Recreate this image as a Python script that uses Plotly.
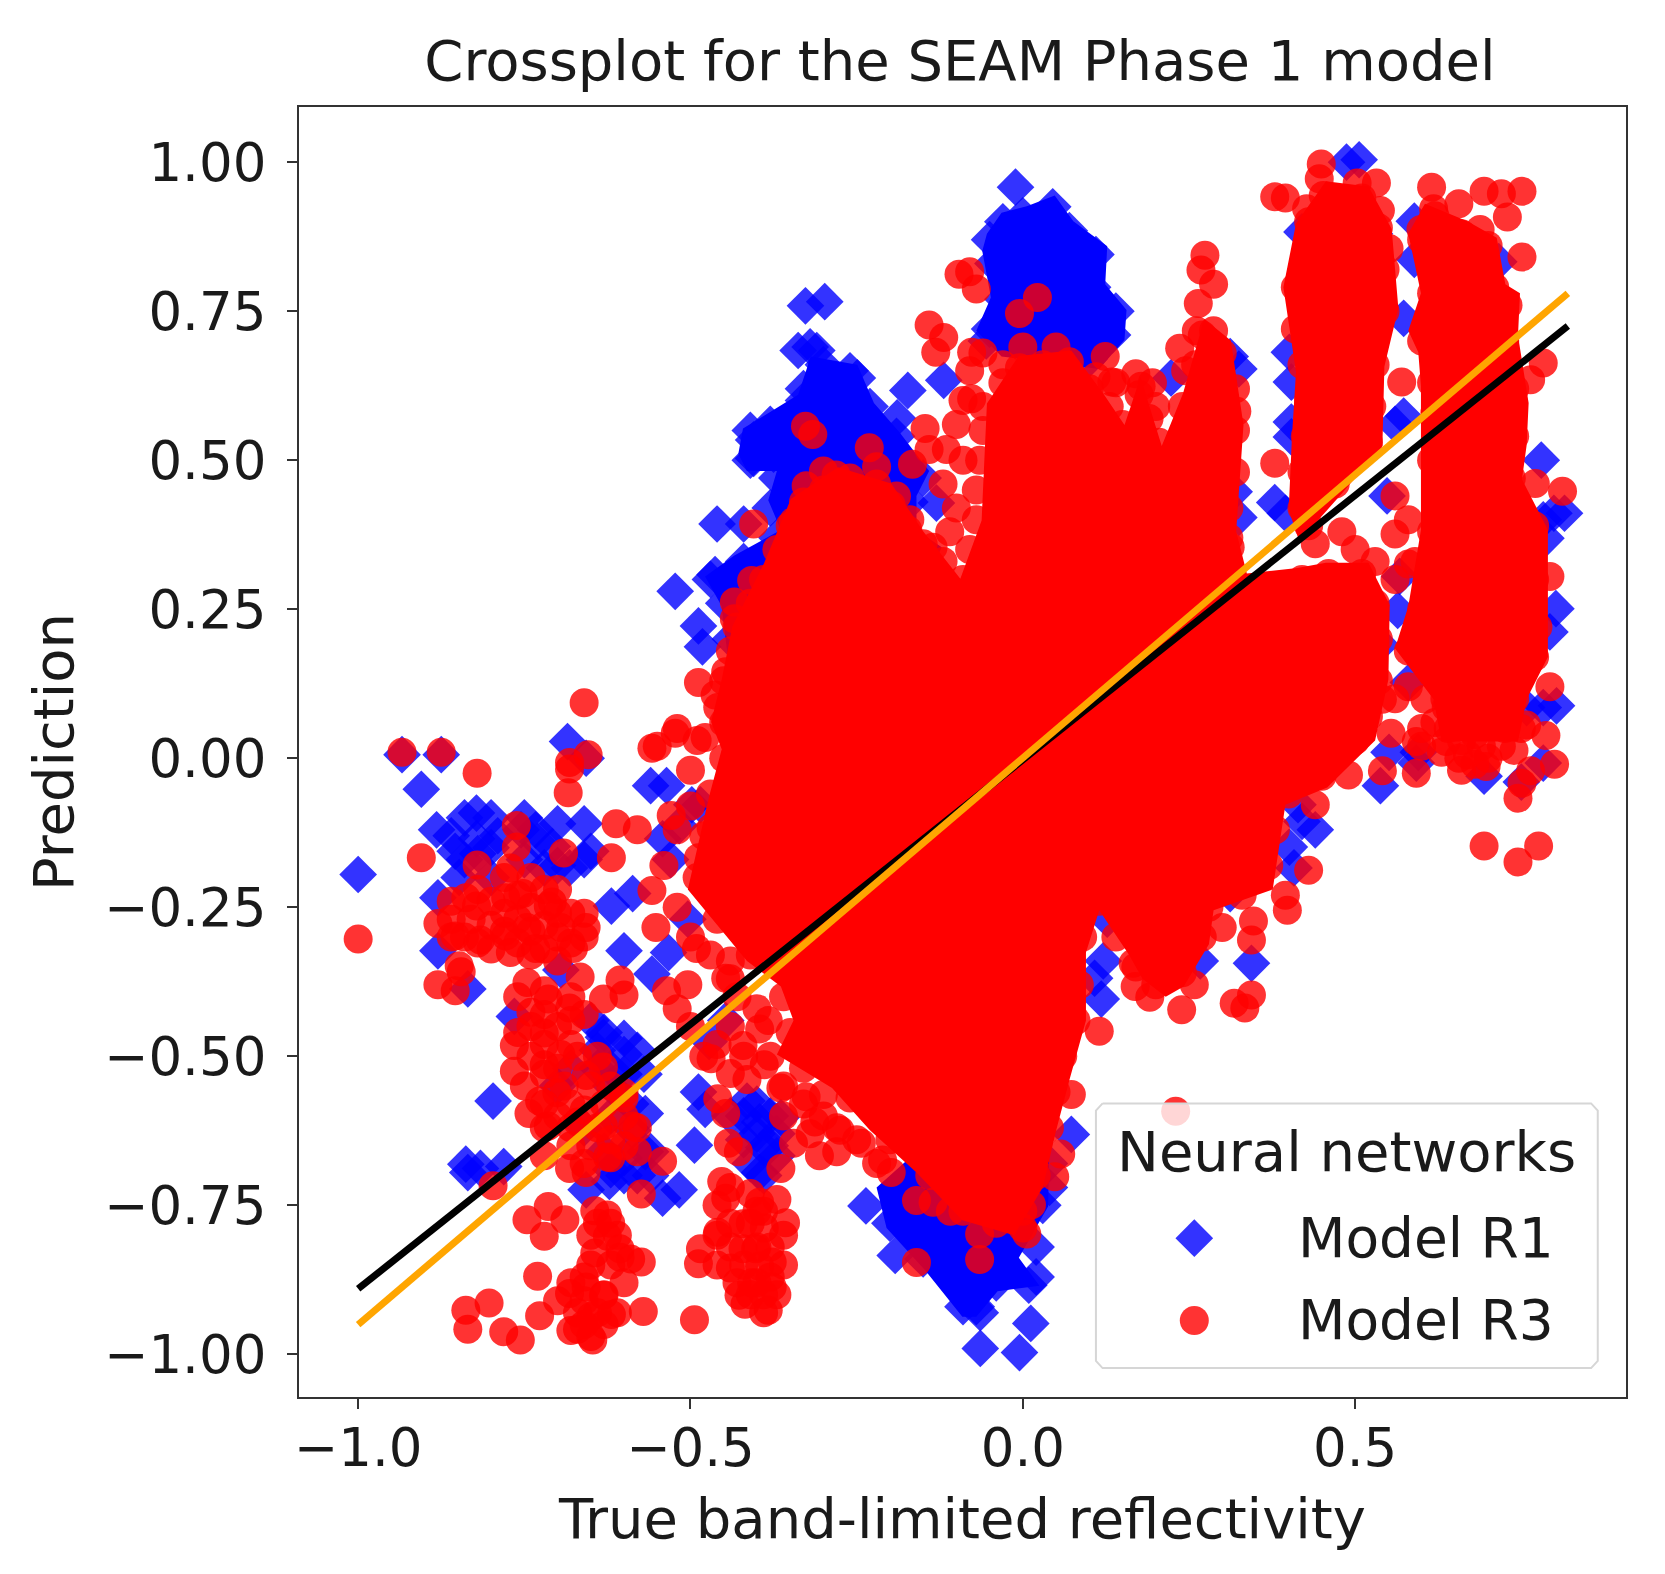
import plotly.graph_objects as go

# Model R1 (blue diamonds): scattered points
r1_x = [-1.0,-0.905,-0.882,-0.822,-0.822,-0.854,-0.848,-0.88,-0.733,-0.708,-0.66,-0.682,-0.65,-0.72,-0.755,-0.79,-0.56,-0.536,-0.657,-0.542,-0.517,-0.498,-0.485,-0.53,-0.619,-0.587,-0.6,-0.533,-0.558,-0.504,-0.88,-0.695,-0.765,-0.835,-0.797,-0.838,-0.816,-0.781,-0.835,-0.631,-0.6,-0.65,-0.568,-0.587,-0.622,-0.657,-0.542,-0.517,-0.568,-0.488,-0.478,-0.494,-0.396,-0.39,-0.396,-0.415,-0.364,-0.37,-0.447,-0.472,-0.62,-0.64,-0.62,-0.7,-0.66,-0.68,
        -0.685,-0.934,-0.875,-0.327,-0.298,-0.338,-0.31,-0.249,-0.173,-0.119,-0.189,-0.405,-0.405,-0.375,-0.13,-0.46,-0.42,-0.463,-0.488,-0.482,-0.523,
        -0.011,0.573,0.78,0.573,0.56,0.379,0.395,0.325,0.312,0.223,0.318,0.325,0.404,0.401,0.404,0.404,0.42,0.529,0.506,0.487,0.589,0.589,0.716,0.799,0.783,0.815,0.787,0.802,0.793,0.783,0.803,0.758,0.564,0.538,0.58,0.548,0.567,0.551,0.592,0.783,0.538,0.595,0.694,0.75,
        0.42,0.44,0.401,0.408,0.414,0.127,0.178,0.121,0.108,0.267,0.312,-0.064,0.012,-0.064,-0.005,0.009,0.073,0.118,0.344,-0.236,-0.192,0.02,0.04,-0.06]
r1_y = [-0.195,-0.052,-0.12,-0.092,-0.135,-0.156,-0.2,-0.234,-0.12,-0.148,-0.11,-0.184,-0.156,-0.184,-0.12,-0.13,-0.046,-0.046,0.0,-0.135,-0.113,-0.078,-0.078,-0.17,-0.248,-0.227,-0.323,-0.326,-0.362,-0.27,-0.323,-0.355,-0.433,-0.387,-0.575,-0.681,-0.688,-0.685,-0.695,-0.468,-0.497,-0.44,-0.596,-0.624,-0.71,-0.724,-0.738,-0.724,-0.66,-0.56,-0.589,-0.649,-0.61,-0.653,-0.695,-0.575,-0.603,-0.667,-0.44,-0.475,-0.55,-0.52,-0.6,-0.55,-0.62,-0.52,
        0.028,0.006,0.006,0.759,0.766,0.684,0.684,0.638,0.617,0.634,0.571,0.534,0.503,0.51,0.428,0.393,0.393,0.308,0.222,0.187,0.28,
        0.958,0.738,0.5,0.574,0.56,0.429,0.411,0.653,0.674,0.638,0.447,0.404,0.631,0.681,0.564,0.539,0.883,0.88,1.004,1.0,0.901,0.837,0.833,0.411,0.4,0.411,0.369,0.251,0.212,0.085,0.088,0.085,0.248,0.191,0.127,0.44,0.305,0.01,-0.008,-0.008,-0.046,0.01,-0.03,-0.04,
        -0.106,-0.12,-0.149,-0.184,-0.078,-0.27,-0.248,-0.34,-0.369,-0.34,-0.227,-0.93,-0.948,-0.99,-0.997,-0.884,-0.631,-0.404,-0.344,-0.751,-0.834,-0.82,-0.72,-0.88]

# Further R1 points along the dense blue areas and in the lower-left clusters
r1_more = [(-0.05,0.87),(-0.03,0.9),(0.0,0.91),(0.045,0.925),(0.07,0.885),(0.11,0.845),(0.105,0.79),(0.14,0.75),(0.135,0.71),(0.1,0.67),(-0.05,0.72),(-0.03,0.77),(-0.045,0.83),(0.02,0.89),(-0.055,0.70),
           (-0.41,0.55),(-0.41,0.5),(-0.37,0.47),(-0.38,0.56),(-0.33,0.6),(-0.3,0.66),(-0.32,0.69),(-0.26,0.65),(-0.23,0.59),(-0.19,0.54),(-0.15,0.47),(-0.17,0.43),(-0.38,0.42),(-0.37,0.37),(-0.42,0.33),(-0.47,0.3),(-0.45,0.26),(-0.44,0.2),(-0.33,0.62),
           (-0.2,-0.78),(-0.15,-0.84),(-0.09,-0.92),(-0.07,-0.92),(-0.04,-0.88),(0.02,-0.87),(0.03,-0.75),(0.04,-0.68),
           (-0.84,-0.1),(-0.82,-0.16),(-0.86,-0.13),(-0.8,-0.1),(-0.8,-0.15),(-0.84,-0.17),(-0.8,-0.2),(-0.75,-0.1),(-0.73,-0.14),(-0.7,-0.11),(-0.7,-0.18),(-0.75,-0.17),(-0.66,-0.17),
           (-0.63,-0.46),(-0.6,-0.47),(-0.6,-0.53),(-0.57,-0.53),(-0.64,-0.49),(-0.58,-0.49),(-0.62,-0.52),(-0.59,-0.58),(-0.62,-0.69),(-0.6,-0.7),(-0.58,-0.7),(-0.56,-0.7),(-0.6,-0.67),(-0.56,-0.66),(-0.63,-0.66),
           (-0.42,-0.6),(-0.4,-0.58),(-0.38,-0.6),(-0.4,-0.63),(-0.42,-0.64),(-0.38,-0.65),(-0.41,-0.68),(-0.39,-0.7),(-0.37,-0.63),(-0.44,-0.6)]

# Model R3 (red circles): scattered points
r3_x = [-0.66,-0.934,-0.875,-0.523,-0.558,-0.654,-0.682,-0.405,-0.327,-0.316,-0.231,-0.22,-0.30,-0.326,-0.281,-0.147,-0.141,-0.166,-0.115,-0.141,-0.119,-0.131,-0.096,
        -0.408,-0.37,-0.357,-0.434,-0.434,-0.488,-0.447,-0.463,-0.459,-0.478,-0.427,-0.135,-0.135,-0.173,-0.198,-0.345,
        0.379,0.395,0.449,0.446,0.503,0.532,0.538,0.427,0.452,0.551,0.615,0.618,0.656,0.694,0.72,0.751,0.729,0.751,0.688,0.656,0.599,0.63,
        0.274,0.268,0.287,0.264,0.236,0.287,0.261,0.379,-0.08,-0.07,0.022,-0.005,0.124,0.134,0.178,-0.077,-0.077,0.783,0.764,0.771,0.812,0.793,0.793,0.787,0.58,0.56,0.57,0.592,0.554,0.541,0.605,0.637,0.312,0.322,
        0.637,0.669,0.70,0.739,0.758,0.745,0.751,0.764,0.80,0.541,0.592,0.49,0.44,0.694,0.776,0.745,0.697,0.656,
        0.43,0.395,0.398,0.347,0.344,0.344,0.318,0.334,0.30,0.239,0.191,0.169,0.258,0.166,0.115,0.073,0.057,0.048,0.013,0.006,-0.065,-0.065,0.23,0.0,-0.032,
        -1.0,-0.905,-0.821,-0.684,-0.682,-0.762,-0.762,-0.821,-0.771,-0.691,-0.619,-0.612,-0.58,-0.529,-0.558,-0.488,-0.469,
        -0.88,-0.838,-0.822,-0.854,-0.816,-0.778,-0.746,-0.752,-0.714,-0.695,-0.657,-0.676,-0.733,-0.778,-0.708,-0.771,-0.848,-0.88,-0.854,-0.845,
        -0.666,-0.606,-0.631,-0.6,-0.552,-0.536,-0.504,-0.491,-0.44,-0.447,
        -0.746,-0.714,-0.682,-0.74,-0.72,-0.765,-0.765,-0.695,-0.72,-0.631,-0.657,-0.701,-0.727,-0.743,-0.714,-0.6,-0.587,-0.631,-0.67,-0.625,-0.542,-0.657,-0.682,-0.72,-0.797,-0.574,
        -0.746,-0.714,-0.689,-0.72,-0.644,-0.625,-0.625,-0.606,-0.644,-0.574,-0.606,-0.73,-0.682,-0.657,-0.631,-0.619,-0.65,-0.67,-0.647,-0.727,-0.838,-0.803,-0.835,-0.781,-0.756,-0.571,-0.494,
        -0.453,-0.447,-0.396,-0.357,-0.459,-0.421,-0.485,-0.488,-0.44,-0.402,-0.377,-0.408,-0.377,-0.427,-0.418,-0.383,-0.396,-0.421,-0.389,
        -0.428,-0.443,-0.459,-0.447,-0.364,-0.469,-0.44,-0.415,-0.421,-0.389,-0.383,-0.396,-0.364,-0.326,-0.3,-0.345,-0.313,-0.306,-0.275,-0.243,-0.211,-0.198,-0.16,-0.135,-0.16,-0.109]
r3_y = [0.093,0.01,0.01,0.042,0.017,0.006,-0.018,0.393,0.557,0.543,0.521,0.489,0.482,0.457,0.475,0.553,0.518,0.493,0.518,0.727,0.706,0.681,0.812,
        0.298,0.305,0.33,0.262,0.234,0.127,0.145,0.106,0.085,0.035,0.134,0.262,0.354,0.383,0.425,0.397,
        0.942,0.94,0.997,0.972,0.965,0.965,0.919,0.922,0.944,0.855,0.958,0.922,0.93,0.951,0.947,0.951,0.908,0.841,0.887,0.88,0.887,0.88,
        0.844,0.819,0.795,0.763,0.688,0.717,0.717,0.495,0.816,0.787,0.773,0.746,0.674,0.631,0.624,0.603,0.681,0.663,0.635,0.461,0.448,0.305,0.12,0.038,0.326,0.376,0.631,0.028,0.042,0.099,0.099,0.085,0.354,0.582,
        0.028,0.006,0.0,0.013,0.056,-0.067,-0.042,-0.021,-0.01,-0.021,-0.025,-0.028,-0.078,-0.147,-0.147,-0.174,-0.014,0.0,
        -0.188,-0.23,-0.255,-0.273,-0.305,-0.397,-0.411,-0.419,-0.284,-0.422,-0.401,-0.383,-0.38,-0.344,-0.458,-0.564,-0.664,-0.702,-0.749,-0.798,-0.841,-0.798,-0.592,-0.788,-0.766,
        -0.303,-0.167,-0.025,-0.058,-0.007,-0.113,-0.149,-0.179,-0.184,-0.159,-0.167,-0.11,-0.12,-0.096,-0.222,-0.167,-0.117,
        -0.277,-0.234,-0.248,-0.298,-0.305,-0.298,-0.284,-0.227,-0.248,-0.284,-0.284,-0.319,-0.319,-0.234,-0.241,-0.326,-0.348,-0.38,-0.39,-0.358,
        -0.367,-0.372,-0.404,-0.397,-0.284,-0.39,-0.38,-0.319,-0.34,-0.369,
        -0.376,-0.404,-0.419,-0.426,-0.461,-0.482,-0.525,-0.497,-0.514,-0.518,-0.532,-0.561,-0.575,-0.596,-0.617,-0.561,-0.617,-0.617,-0.61,-0.669,-0.676,-0.695,-0.688,-0.667,-0.717,-0.731,
        -0.774,-0.752,-0.774,-0.802,-0.759,-0.766,-0.802,-0.823,-0.83,-0.845,-0.837,-0.869,-0.898,-0.887,-0.901,-0.933,-0.937,-0.958,-0.976,-0.935,-0.926,-0.914,-0.958,-0.962,-0.976,-0.928,-0.942,
        -0.71,-0.738,-0.745,-0.779,-0.795,-0.781,-0.823,-0.848,-0.855,-0.823,-0.845,-0.88,-0.887,-0.901,-0.916,-0.926,-0.852,-0.823,-0.788,
        -0.66,-0.646,-0.571,-0.596,-0.688,-0.504,-0.529,-0.539,-0.482,-0.514,-0.44,-0.454,-0.553,-0.568,-0.564,-0.646,-0.61,-0.667,-0.624,-0.646,-0.674,-0.695,-0.742,-0.745,-0.846,-0.76]

# Further R3 points along the rims of the dense red areas and in the lower-left clusters
r3_more = [(-0.45,0.13),(-0.44,0.18),(-0.43,0.22),(-0.41,0.26),(-0.39,0.30),(-0.37,0.35),(-0.35,0.39),(-0.33,0.43),(-0.30,0.45),(-0.26,0.47),(-0.22,0.46),(-0.19,0.44),(-0.17,0.40),(-0.15,0.36),(-0.12,0.33),(-0.09,0.30),(-0.08,0.35),(-0.07,0.40),(-0.07,0.45),(-0.065,0.5),(-0.06,0.55),(-0.06,0.59),(-0.03,0.63),(-0.005,0.655),(0.03,0.66),(0.07,0.665),(0.10,0.62),(0.13,0.59),(0.15,0.56),(0.175,0.61),(0.19,0.57),(0.205,0.53),(0.24,0.59),(0.26,0.66),(0.27,0.71),(0.30,0.68),(0.32,0.62),(0.32,0.55),(0.32,0.48),(0.31,0.42),(0.31,0.37),
           (0.42,0.30),(0.46,0.31),(0.51,0.31),(0.53,0.26),(0.535,0.2),(0.535,0.13),(0.52,0.07),(0.50,0.03),(0.45,-0.03),(0.40,-0.06),(0.38,-0.12),(0.37,-0.18),(0.33,-0.23),(0.28,-0.25),(0.27,-0.3),(0.24,-0.36),(0.2,-0.38),(0.17,-0.35),(0.14,-0.3),(0.115,-0.24),(0.09,-0.3),(0.085,-0.38),(0.08,-0.44),(0.06,-0.5),(0.05,-0.56),(0.04,-0.62),(0.02,-0.7),(0.0,-0.76),(-0.04,-0.78),(-0.09,-0.76),(-0.14,-0.7),(-0.2,-0.64),(-0.26,-0.57),(-0.33,-0.52),(-0.35,-0.46),(-0.36,-0.4),(-0.41,-0.33),(-0.46,-0.27),(-0.49,-0.2),(-0.48,-0.13),(-0.47,-0.06),(-0.45,0.0),(-0.45,0.06),
           (0.42,0.42),(0.42,0.48),(0.425,0.54),(0.43,0.6),(0.42,0.66),(0.41,0.72),(0.41,0.79),(0.43,0.85),(0.43,0.90),(0.47,0.94),(0.51,0.94),(0.535,0.89),(0.545,0.82),(0.545,0.75),(0.53,0.66),(0.525,0.59),(0.52,0.53),(0.47,0.46),(0.43,0.39),
           (0.615,0.63),(0.6,0.7),(0.615,0.78),(0.6,0.87),(0.62,0.91),(0.66,0.88),(0.70,0.86),(0.71,0.79),(0.73,0.76),(0.725,0.7),(0.74,0.62),(0.74,0.54),(0.735,0.47),(0.77,0.39),(0.77,0.3),(0.775,0.22),(0.77,0.17),(0.74,0.1),(0.725,0.05),(0.68,0.04),(0.64,0.05),(0.635,0.1),(0.58,0.18),(0.6,0.25),(0.615,0.38),(0.615,0.5),(0.62,0.58),
           (-0.86,-0.27),(-0.84,-0.3),(-0.8,-0.28),(-0.8,-0.32),(-0.76,-0.27),(-0.76,-0.31),(-0.72,-0.28),(-0.72,-0.32),(-0.68,-0.31),(-0.78,-0.26),(-0.74,-0.25),(-0.7,-0.26),(-0.68,-0.26),(-0.66,-0.3),(-0.8,-0.24),(-0.83,-0.27),(-0.86,-0.3),
           (-0.72,-0.43),(-0.7,-0.45),(-0.68,-0.44),(-0.66,-0.43),(-0.74,-0.45),(-0.72,-0.48),(-0.7,-0.52),(-0.67,-0.5),(-0.65,-0.55),(-0.69,-0.55),(-0.72,-0.58),(-0.7,-0.6),(-0.66,-0.59),(-0.63,-0.58),(-0.6,-0.6),(-0.58,-0.62),(-0.68,-0.65),(-0.65,-0.65),(-0.62,-0.64),
           (-0.64,-0.78),(-0.62,-0.78),(-0.65,-0.8),(-0.61,-0.8),(-0.59,-0.84),(-0.62,-0.85),(-0.65,-0.85),(-0.63,-0.9),(-0.66,-0.91),(-0.64,-0.93),(-0.66,-0.95),(-0.63,-0.95),(-0.41,-0.78),(-0.4,-0.76),(-0.42,-0.85),(-0.4,-0.88),(-0.38,-0.82),(-0.38,-0.87),(-0.39,-0.9),(-0.4,-0.82),(-0.43,-0.88),
           (-0.86,-0.24),(-0.82,-0.22),(-0.78,-0.2),(-0.74,-0.2),(-0.72,-0.22),(-0.7,-0.22),(-0.76,-0.23),(-0.78,-0.29),(-0.74,-0.29),(-0.7,-0.3),(-0.82,-0.31),(-0.66,-0.26),(-0.74,-0.33),(-0.7,-0.34),
           (-0.76,-0.4),(-0.72,-0.39),(-0.68,-0.4),(-0.76,-0.46),(-0.74,-0.5),(-0.72,-0.53),(-0.75,-0.55),(-0.68,-0.48),(-0.64,-0.5),(-0.62,-0.55),(-0.6,-0.57),(-0.68,-0.58),(-0.72,-0.62),(-0.68,-0.62),(-0.64,-0.62),(-0.6,-0.65),(-0.66,-0.68),(-0.62,-0.67),(-0.58,-0.66),
           (-0.68,-0.88),(-0.66,-0.87),(-0.7,-0.91),(-0.67,-0.93),(-0.61,-0.93),(-0.6,-0.88),(-0.68,-0.96),(-0.65,-0.97),
           (-0.46,-0.85),(-0.46,-0.8),(-0.44,-0.78),(-0.44,-0.72),(-0.41,-0.73),(-0.39,-0.76),(-0.37,-0.74),(-0.36,-0.8),(-0.36,-0.85),(-0.37,-0.9),(-0.39,-0.93),(-0.41,-0.9),(-0.44,-0.82),(-0.46,-0.75),
           (-0.52,-0.42),(-0.5,-0.45),(-0.48,-0.5),(-0.46,-0.48),(-0.44,-0.45),(-0.42,-0.5),(-0.38,-0.5),(-0.36,-0.55),(-0.33,-0.58),(-0.3,-0.6),(-0.28,-0.62),(-0.25,-0.64),(-0.22,-0.68),(-0.4,-0.42),(-0.43,-0.4),(-0.36,-0.6),(-0.32,-0.63),(-0.28,-0.66),
           (-0.5,-0.02),(-0.49,0.03),(-0.5,-0.08),(-0.52,-0.12),(-0.54,-0.18),(-0.52,-0.25),(-0.5,-0.3),(-0.47,-0.33),(-0.44,-0.37),(-0.55,0.02),(-0.52,0.05),
           (-0.1,0.42),(-0.12,0.46),(-0.09,0.5),(-0.1,0.56),(-0.09,0.6),(-0.08,0.65),(-0.06,0.68),(-0.15,0.31),(-0.11,0.38),(-0.03,0.66),
           (0.0,0.69),(0.05,0.69),(0.11,0.64),(0.14,0.63),(0.17,0.645),(0.195,0.63),(0.2,0.59),(0.245,0.65),
           (0.6,0.02),(0.63,0.01),(0.66,0.03),(0.69,0.02),(0.72,0.02),(0.75,0.05),(0.62,0.06),(0.58,0.12),(0.56,0.1),(0.6,0.05),(0.66,-0.02),(0.68,-0.01),
           (0.59,0.33),(0.56,0.3),(0.58,0.4),(0.56,0.44),(0.5,0.35),(0.53,0.33),(0.48,0.38),(0.44,0.36)]

# Outlines of the areas where the markers overlap into solid colour
r1_dense_left_x = [-0.421,-0.338,-0.319,-0.249,-0.224,-0.185,-0.141,-0.160,-0.160,-0.122,-0.198,-0.440,-0.453,-0.478,-0.434,-0.364,-0.383,-0.370,-0.415,-0.428]
r1_dense_left_y = [0.553,0.610,0.674,0.660,0.596,0.546,0.482,0.440,0.383,0.354,0.170,0.134,0.255,0.305,0.340,0.383,0.433,0.482,0.482,0.511]
r1_dense_top_x = [-0.054,-0.032,0.006,0.048,0.076,0.127,0.124,0.156,0.153,0.115,-0.032,-0.070,-0.048,-0.061]
r1_dense_top_y = [0.880,0.915,0.926,0.944,0.901,0.859,0.795,0.752,0.702,0.653,0.674,0.717,0.773,0.851]
r1_dense_low_x = [-0.22,-0.205,-0.147,-0.091,-0.07,-0.038,0.025,-0.006,0.038,0.04,-0.1]
r1_dense_low_y = [-0.72,-0.788,-0.859,-0.937,-0.937,-0.894,-0.885,-0.838,-0.752,-0.65,-0.6]

r3_dense_main_x = [-0.453,-0.437,-0.389,-0.349,-0.278,-0.198,-0.150,-0.094,-0.062,-0.054,-0.006,0.073,0.121,0.153,0.177,0.209,0.241,0.273,0.313,0.332,0.321,0.337,0.413,0.456,0.52,0.552,0.55,0.53,0.458,0.395,0.376,0.287,0.28,0.242,0.215,0.18,0.16,0.115,0.095,0.095,0.07,0.05,0.03,-0.013,-0.091,-0.16,-0.23,-0.287,-0.37,-0.345,-0.364,-0.415,-0.504,-0.472,-0.453,-0.469]
r3_dense_main_y = [0.132,0.221,0.328,0.435,0.488,0.461,0.381,0.301,0.399,0.595,0.675,0.684,0.612,0.559,0.639,0.524,0.612,0.737,0.701,0.559,0.381,0.310,0.319,0.328,0.328,0.257,0.132,0.03,-0.049,-0.078,-0.22,-0.255,-0.312,-0.383,-0.40,-0.37,-0.33,-0.255,-0.326,-0.44,-0.54,-0.625,-0.72,-0.80,-0.775,-0.695,-0.624,-0.553,-0.497,-0.44,-0.383,-0.34,-0.22,-0.064,0.015,0.061]
r3_dense_a_x = [0.40,0.405,0.411,0.392,0.411,0.456,0.52,0.555,0.565,0.544,0.541,0.48,0.416]
r3_dense_a_y = [0.417,0.541,0.648,0.79,0.897,0.968,0.959,0.888,0.755,0.657,0.524,0.444,0.364]
r3_dense_b_x = [0.599,0.595,0.580,0.599,0.580,0.605,0.669,0.713,0.726,0.748,0.745,0.761,0.758,0.751,0.790,0.790,0.758,0.745,0.63,0.618,0.56,0.58,0.599,0.599]
r3_dense_b_y = [0.624,0.681,0.717,0.780,0.880,0.930,0.901,0.873,0.795,0.780,0.709,0.596,0.525,0.468,0.383,0.170,0.099,0.028,0.028,0.099,0.184,0.255,0.383,0.503]

# Fit lines
fit_x = [-1.0, 0.82]
fit_black_y = [-0.89, 0.725]
fit_orange_y = [-0.95, 0.78]

# Axis ticks
x_ticks = [-1.0, -0.5, 0.0, 0.5]
y_ticks = [-1.0, -0.75, -0.5, -0.25, 0.0, 0.25, 0.5, 0.75, 1.0]

# Legend
legend_title = "Neural networks"
legend_names = ["Model R1", "Model R3"]
legend_key_x = 0.258
legend_key_y = [-0.805, -0.943]
legend_box_x = [0.12, 0.855, 0.865, 0.865, 0.855, 0.12, 0.11, 0.11, 0.12]
legend_box_y = [-0.579, -0.579, -0.591, -1.011, -1.023, -1.023, -1.011, -0.591, -0.579]

BLUE, RED = "#0000ff", "#ff0000"
TXT = "#1a1a1a"
FONT = "DejaVu Sans"
fig = go.Figure()


def core(x, y, color):
    fig.add_trace(go.Scatter(x=x, y=y, mode="lines", fill="toself", fillcolor=color,
                             line=dict(width=0, color=color), hoverinfo="skip", showlegend=False))


for cx, cy in [(r1_dense_left_x, r1_dense_left_y), (r1_dense_top_x, r1_dense_top_y), (r1_dense_low_x, r1_dense_low_y)]:
    core(cx, cy, BLUE)
fig.add_trace(go.Scatter(x=r1_x + [p[0] for p in r1_more], y=r1_y + [p[1] for p in r1_more],
                         mode="markers", name=legend_names[0], showlegend=False,
                         marker=dict(symbol="diamond", size=29, color=BLUE, opacity=0.8, line=dict(width=0))))
for cx, cy in [(r3_dense_main_x, r3_dense_main_y), (r3_dense_a_x, r3_dense_a_y), (r3_dense_b_x, r3_dense_b_y)]:
    core(cx, cy, RED)
fig.add_trace(go.Scatter(x=r3_x + [p[0] for p in r3_more], y=r3_y + [p[1] for p in r3_more],
                         mode="markers", name=legend_names[1], showlegend=False,
                         marker=dict(symbol="circle", size=29, color=RED, opacity=0.8, line=dict(width=0))))
fig.add_trace(go.Scatter(x=fit_x, y=fit_black_y, mode="lines", line=dict(color="black", width=7), showlegend=False))
fig.add_trace(go.Scatter(x=fit_x, y=fit_orange_y, mode="lines", line=dict(color="orange", width=7), showlegend=False))

# Legend frame and keys
fig.add_trace(go.Scatter(x=legend_box_x, y=legend_box_y, mode="lines", fill="toself",
                         fillcolor="rgba(255,255,255,0.8)", line=dict(color="#d6d6d6", width=2),
                         hoverinfo="skip", showlegend=False))
fig.add_trace(go.Scatter(x=[legend_key_x], y=[legend_key_y[0]], mode="markers", showlegend=False,
                         marker=dict(symbol="diamond", size=29, color=BLUE, opacity=0.8, line=dict(width=0))))
fig.add_trace(go.Scatter(x=[legend_key_x], y=[legend_key_y[1]], mode="markers", showlegend=False,
                         marker=dict(symbol="circle", size=29, color=RED, opacity=0.8, line=dict(width=0))))
fig.add_annotation(x=0.4875, y=-0.659, text=legend_title, showarrow=False, xanchor="center", yanchor="middle",
                   font=dict(family=FONT, size=56, color=TXT))
for name, ky in zip(legend_names, legend_key_y):
    fig.add_annotation(x=0.411, y=ky, text=name, showarrow=False, xanchor="left", yanchor="middle",
                       font=dict(family=FONT, size=55, color=TXT))

axis_common = dict(showline=True, mirror=True, linecolor="#333333", linewidth=2, ticks="outside",
                   ticklen=10, tickwidth=2, tickcolor="#333333", showgrid=False, zeroline=False,
                   tickfont=dict(family=FONT, size=53, color=TXT))
fig.update_layout(
    width=1649, height=1558, autosize=False,
    margin=dict(l=291, r=31, t=99, b=169),
    paper_bgcolor="white", plot_bgcolor="white", showlegend=False,
    title=dict(text="Crossplot for the SEAM Phase 1 model", x=0.5773, xanchor="center", y=0.9663, yanchor="middle",
               font=dict(family=FONT, size=56, color=TXT)),
    xaxis=dict(range=[-1.089, 0.9075], tickvals=x_ticks, tickformat=".1f", ticklabelstandoff=-7,
               title=dict(text="True band-limited reflectivity", font=dict(family=FONT, size=56, color=TXT), standoff=22),
               **axis_common),
    yaxis=dict(range=[-1.0715, 1.0925], tickvals=y_ticks, tickformat=".2f", ticklabelstandoff=10,
               title=dict(text="Prediction", font=dict(family=FONT, size=56, color=TXT), standoff=12),
               **axis_common),
)
fig.write_html("out.html")
